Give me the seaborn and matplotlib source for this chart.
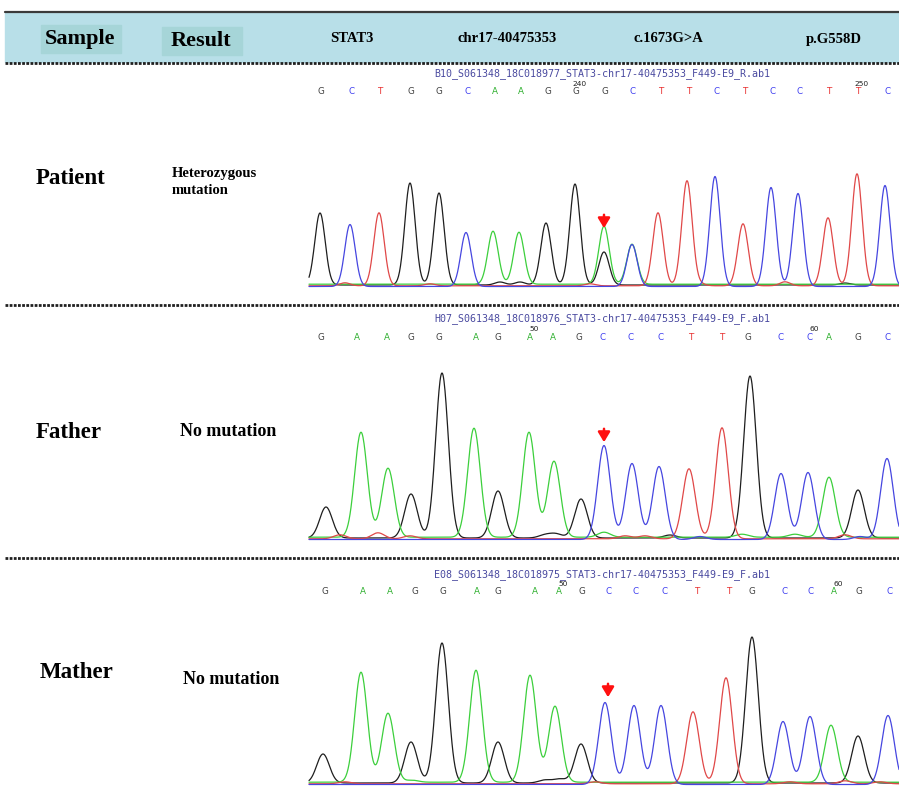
import numpy as np
import pandas as pd
import matplotlib.pyplot as plt
import seaborn as sns
from matplotlib.patches import Rectangle

sns.set_theme(style='white')
plt.rcParams['font.family'] = ['Liberation Serif', 'DejaVu Sans']
plt.rcParams['text.color'] = 'black'

# header
header_labels = ['STAT3', 'chr17-40475353', 'c.1673G>A', 'p.G558D']
samples = ['Patient', 'Father', 'Mather']
results = ['Heterozygous\nmutation', 'No mutation', 'No mutation']
files = ['B10_S061348_18C018977_STAT3-chr17-40475353_F449-E9_R.ab1',
         'H07_S061348_18C018976_STAT3-chr17-40475353_F449-E9_F.ab1',
         'E08_S061348_18C018975_STAT3-chr17-40475353_F449-E9_F.ab1']

# base calls shown above each trace
patient_bases = list('GCTGGCAAGGGCTTCTCCTTC')
patient_base_x = [321, 352, 380, 411, 439, 468, 495, 521, 548, 576, 605,
                  633, 661, 689, 717, 745, 773, 800, 829, 858, 888]
father_bases = list('GAAGGAGAAGCCCTTGCCAGC')
father_base_x = [321, 357, 387, 411, 439, 476, 498, 530, 553, 579, 603,
                 631, 661, 691, 722, 748, 781, 810, 829, 858, 888]
mather_bases = list('GAAGGAGAAGCCCTTGCCAGC')
mather_base_x = [325, 363, 390, 415, 443, 477, 498, 535, 559, 582, 609,
                 636, 665, 697, 729, 752, 785, 811, 834, 859, 890]
patient_ticks = [('240', 10), ('250', 20)]
father_ticks = [('50', 8), ('60', 18)]
mather_ticks = [('50', 9), ('60', 19)]

# main peaks: position, dye channel, height
patient_peak_x = [320, 350, 379, 410, 439, 466, 493, 519, 546, 575, 604,
                  632, 658, 687, 715, 743, 771, 798, 828, 857, 885]
patient_peak_dye = list('GCTGGCAAGGACTTCTCCTTC')
patient_peak_h = [72, 62, 73, 102, 92, 54, 53, 52, 62, 101, 58,
                  42, 73, 105, 110, 62, 99, 93, 68, 112, 101]
patient_minor = [(604, 'G', 33), (632, 'A', 40), (345, 'T', 3), (430, 'T', 2),
                 (500, 'G', 3), (520, 'G', 3), (700, 'T', 2), (785, 'T', 4),
                 (590, 'T', 2), (845, 'G', 2)]

father_peak_x = [326, 361, 388, 411, 442, 474, 498, 529, 554, 581, 604,
                 632, 659, 689, 722, 750, 781, 808, 829, 858, 887]
father_peak_dye = list('GAAGGAGAAGCCCTTGCCAGC')
father_peak_h = [31, 105, 69, 44, 165, 109, 47, 105, 76, 39, 94,
                 76, 73, 70, 111, 162, 66, 67, 60, 48, 81]
father_minor = [(340, 'T', 4), (378, 'T', 6), (410, 'T', 3), (545, 'G', 3),
                (556, 'G', 4), (604, 'A', 5), (625, 'T', 3), (645, 'T', 3),
                (670, 'G', 3), (700, 'C', 3), (742, 'A', 3), (795, 'A', 3),
                (845, 'T', 4), (860, 'C', 3)]

mather_peak_x = [323, 361, 388, 411, 442, 476, 498, 530, 555, 581, 605,
                 634, 661, 693, 726, 752, 783, 810, 831, 858, 888]
mather_peak_dye = list('GAAGGAGAAGCCCTTGCCAGC')
mather_peak_h = [29, 110, 69, 41, 140, 112, 41, 107, 76, 39, 82,
                 79, 79, 72, 106, 146, 63, 68, 57, 47, 69]
mather_minor = [(345, 'T', 2), (412, 'A', 2), (545, 'G', 3), (560, 'G', 4),
                (595, 'T', 2), (790, 'T', 2), (845, 'T', 3), (880, 'T', 2)]

dye_colors = {'G': '#1e1e1e', 'A': '#3ccf3c', 'T': '#e04848', 'C': '#4646e0'}
letter_colors = {'G': '#404040', 'A': '#30b030', 'T': '#e83030', 'C': '#4040f0'}

panels = [
    dict(peak_x=patient_peak_x, dye=patient_peak_dye, h=patient_peak_h, minor=patient_minor,
         bases=patient_bases, base_x=patient_base_x, ticks=patient_ticks,
         base=285, sigma=5.2, title_y=74, letter_y=92, arrow=(604, 212, 231),
         label_xy=(71, 178), result_xy=(172, 182), result_size=10.5),
    dict(peak_x=father_peak_x, dye=father_peak_dye, h=father_peak_h, minor=father_minor,
         bases=father_bases, base_x=father_base_x, ticks=father_ticks,
         base=538, sigma=6.3, title_y=319, letter_y=337, arrow=(604, 426, 445),
         label_xy=(69, 433), result_xy=(180, 431), result_size=13),
    dict(peak_x=mather_peak_x, dye=mather_peak_dye, h=mather_peak_h, minor=mather_minor,
         bases=mather_bases, base_x=mather_base_x, ticks=mather_ticks,
         base=783, sigma=6.3, title_y=575, letter_y=592, arrow=(608, 681, 700),
         label_xy=(77, 673), result_xy=(183, 680), result_size=13),
]

offsets = {'G': 0.0, 'A': -0.8, 'T': 0.8, 'C': 1.5}
grid = np.arange(309, 899.5, 0.5)
rows = []
for i, p in enumerate(panels):
    peaks = list(zip(p['peak_x'], p['dye'], p['h'])) + p['minor']
    for d in 'GATC':
        sig = np.zeros_like(grid)
        for px, pd_, ph in peaks:
            if pd_ == d:
                sig += ph * np.exp(-(grid - px) ** 2 / (2 * p['sigma'] ** 2))
        rows.append(pd.DataFrame({'x': grid, 'y': p['base'] + offsets[d] - sig,
                                  'dye': d, 'trace': f'{i}{d}'}))
df = pd.concat(rows, ignore_index=True)

fig = plt.figure(figsize=(8.99, 8.02), dpi=100)
ax = fig.add_axes([0, 0, 1, 1])
ax.set_xlim(0, 899)
ax.set_ylim(802, 0)
ax.axis('off')

# header band
ax.add_patch(Rectangle((5, 12), 894, 50, color='#b8dfe8', zorder=0))
ax.add_patch(Rectangle((41, 25), 80, 28, color='#a6d5d8', zorder=0))
ax.add_patch(Rectangle((162, 27), 80, 28, color='#a6d5d8', zorder=0))
ax.plot([5, 899], [12, 12], color='#3a3a3a', lw=1.6)
ax.text(80, 39, 'Sample', ha='center', va='center', fontsize=16, fontweight='bold')
ax.text(201, 41, 'Result', ha='center', va='center', fontsize=16, fontweight='bold')
for lab, hx in zip(header_labels, [352, 507, 668, 834]):
    ax.text(hx, 39, lab, ha='center', va='center', fontsize=10.5, fontweight='bold')

for sy in [63, 305, 558]:
    ax.plot([5, 899], [sy, sy], color='#202020', lw=2, ls=(0, (1, 0.5)))

sns.lineplot(data=df, x='x', y='y', hue='dye', units='trace', estimator=None,
             sort=False, palette=dye_colors, lw=0.9, legend=False, ax=ax)
ax.set_xlim(0, 899)
ax.set_ylim(802, 0)
ax.axis('off')

for p, s, r, f in zip(panels, samples, results, files):
    ax.text(602, p['title_y'], f, ha='center', va='center', fontsize=7.2,
            family='DejaVu Sans Mono', color='#4a4aa0')
    for b, bx in zip(p['bases'], p['base_x']):
        ax.text(bx, p['letter_y'], b, ha='center', va='center', fontsize=6.3,
                family='DejaVu Sans', color=letter_colors[b])
    for lab, idx in p['ticks']:
        bx = p['base_x'][idx - 1]
        ax.text(bx + 4, p['letter_y'] - 8, lab, ha='center', va='center',
                fontsize=5.4, family='DejaVu Sans', color='#202020')
    ax.text(p['label_xy'][0], p['label_xy'][1], s, ha='center', va='center',
            fontsize=16.5, fontweight='bold')
    ax.text(p['result_xy'][0], p['result_xy'][1], r, ha='left', va='center',
            fontsize=p['result_size'], fontweight='bold', linespacing=1.5)
    axx, y0, y1 = p['arrow']
    ax.annotate('', xy=(axx, y1), xytext=(axx, y0),
                arrowprops=dict(arrowstyle='-|>,head_length=0.5,head_width=0.3',
                                color='#ff1010', lw=1.8))

fig.savefig('out.png', dpi=100)
